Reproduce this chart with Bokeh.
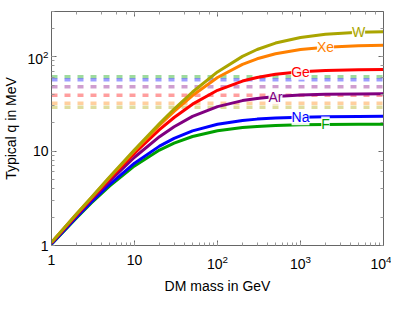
import math
from bokeh.plotting import figure
from bokeh.models import (LogAxis, LogTicker, LogTickFormatter, Span, Label,
                          Range1d, CustomJSTickFormatter)
from bokeh.embed import file_html
from bokeh.resources import INLINE

# ---------------- data ----------------
MASS = [1, 2, 3, 5, 10, 20, 30, 50, 100, 200, 300, 500, 1000, 2000, 5000, 10000]
Q_F = [1.03, 1.96, 2.80, 4.25, 6.96, 10.24, 12.13, 14.25, 16.39, 17.72, 18.22, 18.63, 18.96, 19.12, 19.22, 19.26]
Q_NA = [1.04, 1.99, 2.87, 4.42, 7.43, 11.27, 13.61, 16.33, 19.21, 21.07, 21.77, 22.37, 22.84, 23.08, 23.23, 23.28]
Q_AR = [1.06, 2.07, 3.03, 4.80, 8.59, 14.18, 18.10, 23.25, 29.55, 34.19, 36.08, 37.74, 39.09, 39.81, 40.25, 40.40]
Q_GE = [1.07, 2.12, 3.13, 5.07, 9.50, 16.82, 22.65, 31.33, 43.96, 55.07, 60.13, 64.91, 69.02, 71.28, 72.70, 73.19]
Q_XE = [1.08, 2.15, 3.19, 5.24, 10.08, 18.74, 26.26, 38.69, 59.97, 82.72, 94.70, 107.1, 118.8, 125.6, 130.1, 131.7]
Q_W = [1.08, 2.16, 3.21, 5.30, 10.30, 19.52, 27.82, 42.18, 68.81, 100.5, 118.8, 139.0, 159.3, 171.9, 180.4, 183.5]

NAMES = ["F", "Na", "Ar", "Ge", "Xe", "W"]
SERIES = [Q_F, Q_NA, Q_AR, Q_GE, Q_XE, Q_W]
Q_DASH = [61, 57, 48, 39, 32, 29]
LABEL_MASS = [2000, 1000, 500, 1000, 2000, 5000]
COLORS = ["#00A000", "#0000FF", "#800080", "#FF0000", "#FF8000", "#AAA500"]

X_RANGE = (1, 1e4)
Y_RANGE = (1, 300)
X_LABEL = "DM mass in GeV"
Y_LABEL = "Typical q in MeV"

FONT = "Liberation Sans"

p = figure(width=391, height=296, x_axis_type="log", y_axis_type="log",
           x_range=Range1d(*X_RANGE), y_range=Range1d(*Y_RANGE),
           output_backend="svg", toolbar_location=None,
           min_border_left=51, min_border_right=8,
           min_border_top=11, min_border_bottom=50)
p.outline_line_color = None
p.grid.visible = False
p.background_fill_color = "white"
p.border_fill_color = "white"


def style_axis(ax):
    ax.axis_line_color = "#666666"
    ax.axis_line_width = 1
    ax.major_tick_in = 5
    ax.major_tick_out = 0
    ax.minor_tick_in = 3
    ax.minor_tick_out = 0
    ax.major_tick_line_color = "#666666"
    ax.minor_tick_line_color = "#999999"
    ax.major_label_text_font = FONT
    ax.major_label_text_font_size = "14px"
    ax.major_label_text_color = "black"


for ax in [p.xaxis[0], p.yaxis[0]]:
    style_axis(ax)
    ax.formatter = LogTickFormatter(min_exponent=2)
    ax.axis_label_text_font = FONT
    ax.axis_label_text_font_size = "14px"
    ax.axis_label_text_font_style = "normal"
    ax.axis_label_text_color = "black"

p.xaxis.major_label_standoff = 9
p.xaxis.axis_label = X_LABEL
p.xaxis.axis_label_standoff = 6

p.yaxis.major_label_standoff = 3
p.yaxis.axis_label = Y_LABEL
p.yaxis.axis_label_standoff = 5

for side in ["above", "right"]:
    ax = LogAxis(ticker=LogTicker(), formatter=CustomJSTickFormatter(code="return ''"))
    style_axis(ax)
    ax.major_label_standoff = 0
    ax.major_label_text_font_size = "0px"
    p.add_layout(ax, side)

# dashed reference levels
for v, c in zip(Q_DASH, COLORS):
    p.add_layout(Span(location=v, dimension="width", line_color=c, line_alpha=0.38,
                      line_width=3.5, line_dash="6 7", level="underlay"))

# curves
for s, c in zip(SERIES, COLORS):
    p.line(MASS, s, line_color=c, line_width=3)

# curve labels
for name, s, c, m in zip(NAMES, SERIES, COLORS, LABEL_MASS):
    yv = s[MASS.index(m)]
    p.add_layout(Label(x=m, y=yv, text=name, text_color=c, text_font=FONT,
                       text_font_size="14px", text_align="center",
                       text_baseline="middle", background_fill_color="white",
                       background_fill_alpha=0.9))

open("out.html", "w").write(file_html(p, INLINE))
